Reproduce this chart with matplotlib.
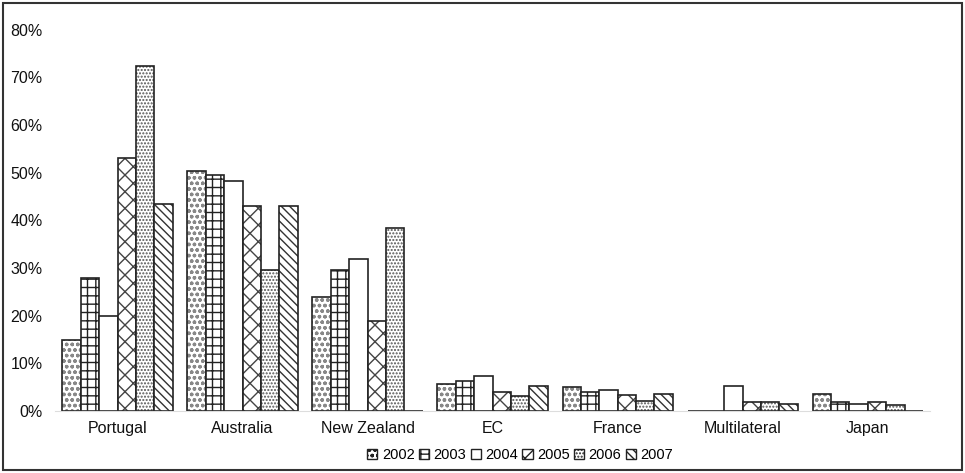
import numpy as np
import matplotlib.pyplot as plt
from matplotlib.patches import Patch, Rectangle

plt.rcParams['font.family'] = ['Liberation Sans', 'DejaVu Sans']

# Categories and per-year shares (in %)
categories = ['Portugal', 'Australia', 'New Zealand', 'EC', 'France', 'Multilateral', 'Japan']
years = ['2002', '2003', '2004', '2005', '2006', '2007']
v2002 = [15.0, 50.3, 24.0, 5.6, 5.0, 0.0, 3.5]
v2003 = [28.0, 49.6, 29.5, 6.3, 3.9, 0.0, 2.0]
v2004 = [20.0, 48.2, 31.8, 7.3, 4.5, 5.3, 1.4]
v2005 = [53.0, 43.0, 18.8, 4.0, 3.4, 2.0, 1.8]
v2006 = [72.5, 29.5, 38.5, 3.2, 2.2, 2.0, 1.2]
v2007 = [43.5, 43.0, 0.0, 5.3, 3.5, 1.5, 0.0]
series = [v2002, v2003, v2004, v2005, v2006, v2007]

# hatch pattern and hatch colour per year
hatches = ['ooo', '++', '', 'xx', '.....', '\\\\\\\\']
hatch_colors = ['#888888', '#222222', '#222222', '#444444', '#555555', '#333333']

fig = plt.figure(figsize=(9.65, 4.73), dpi=100)
ax = fig.add_axes([0.057, 0.131, 0.907, 0.806])

x = np.arange(len(categories))
n = len(years)
w = 0.147
for i, vals in enumerate(series):
    pos = x + (i - (n - 1) / 2) * w
    # hatch layer, then black outline on top
    ax.bar(pos, vals, w, color='white', hatch=hatches[i],
           edgecolor=hatch_colors[i], linewidth=0)
    ax.bar(pos, vals, w, fill=False, edgecolor='#222222', linewidth=1.2)

ax.set_xlim(-0.5, len(categories) - 0.5)
ax.set_ylim(0, 80)
ax.set_yticks(np.arange(0, 81, 10))
ax.set_yticklabels([f'{t}%' for t in range(0, 81, 10)])
ax.set_xticks(x)
ax.set_xticklabels(categories)
ax.tick_params(axis='both', length=0, labelsize=11.5, colors='#111111')
ax.tick_params(axis='y', pad=9)
ax.tick_params(axis='x', pad=7)

for s in ['top', 'right', 'left']:
    ax.spines[s].set_visible(False)
ax.spines['bottom'].set_color('#dddddd')

handles = [Patch(facecolor='white', edgecolor='#222222', hatch=hatches[i], linewidth=1)
           for i in range(n)]
fig.legend(handles, years, loc='center', bbox_to_anchor=(0.539, 0.038), ncol=6,
           frameon=False, fontsize=10.5, handlelength=0.7, handleheight=0.7,
           handletextpad=0.3, columnspacing=0.3)

# outer frame around the whole chart
fig.add_artist(Rectangle((0.003, 0.006), 0.994, 0.988, transform=fig.transFigure,
                         fill=False, edgecolor='#333333', linewidth=1.5))

fig.savefig('out.png', dpi=100)
